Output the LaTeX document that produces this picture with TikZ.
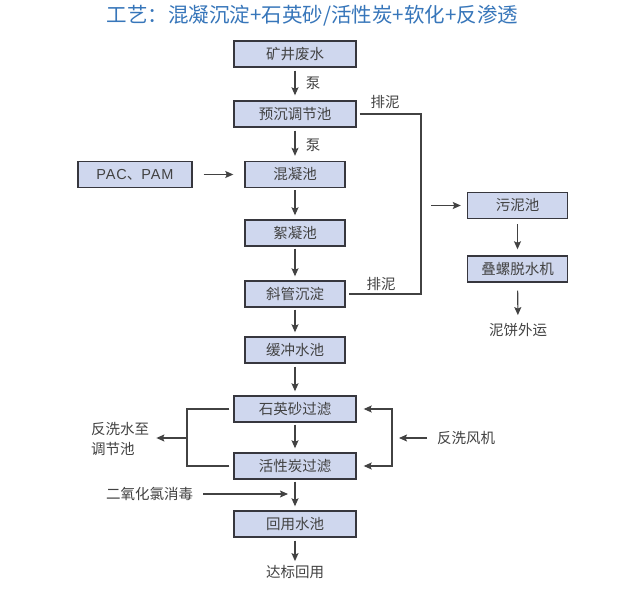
\documentclass[tikz,border=0pt]{standalone}
\usepackage{fontspec}
\setmainfont{Noto Sans CJK SC}
\newfontfamily\latfont[LetterSpace=6]{Liberation Sans}
\usetikzlibrary{arrows.meta,calc}
\definecolor{boxfill}{RGB}{207,215,238}
\definecolor{boxline}{RGB}{55,55,62}
\definecolor{txt}{RGB}{66,66,66}
\definecolor{ttl}{RGB}{55,118,186}
\begin{document}
\begin{tikzpicture}[x=1pt,y=-1pt,
  box/.style={draw=boxline,line width=1.4pt,fill=boxfill,minimum height=26pt,inner sep=0pt,text=txt,font=\fontsize{14.5}{15}\selectfont},
  wide/.style={box,minimum width=122pt},
  narrow/.style={box,minimum width=100pt},
  lbl/.style={text=txt,font=\fontsize{14.5}{20}\selectfont,inner sep=0pt},
  conn/.style={draw=txt,line width=1.1pt},
  arr/.style={conn,-{Stealth[length=8pt,width=7pt,inset=1.5pt]}}]
\useasboundingbox (0,0) rectangle (621,601);
\fill[white] (0,0) rectangle (621,601);
\node[text=ttl,font=\fontsize{20.5}{21}\selectfont,inner sep=0pt] (title) at (312.5,16) {工艺：混凝沉淀+石英砂/活性炭+软化+反渗透};
% main column
\node[wide] (n1) at (295,54) {矿井废水};
\node[wide] (n2) at (295,114) {预沉调节池};
\node[narrow] (n3) at (295,174.5) {混凝池};
\node[box,minimum width=114pt] (pac) at (135,174.5) {{\latfont PAC}、{\latfont PAM}};
\node[narrow] (n4) at (295,233) {絮凝池};
\node[narrow] (n5) at (295,294) {斜管沉淀};
\node[narrow] (n6) at (295,350) {缓冲水池};
\node[wide] (n7) at (295,409) {石英砂过滤};
\node[wide] (n8) at (295,466) {活性炭过滤};
\node[wide] (n9) at (295,524) {回用水池};
\node[lbl] (n10) at (295,572) {达标回用};
% sludge column
\node[narrow] (s1) at (517.5,205.5) {污泥池};
\node[narrow] (s2) at (517.5,269) {叠螺脱水机};
\node[lbl] (s3) at (518,330) {泥饼外运};
% labels
\node[lbl] (p1) at (313,83) {泵};
\node[lbl] (p2) at (313,145) {泵};
\node[lbl] (d1) at (385,102) {排泥};
\node[lbl] (d2) at (381,284) {排泥};
\node[lbl,anchor=west] (cl) at (106,494) {二氧化氯消毒};
\node[lbl,align=left,anchor=west] (bw) at (91,439) {反洗水至\\调节池};
\node[lbl,anchor=west] (fan) at (437,438) {反洗风机};
% coordinates
\coordinate (jt) at (421,200);
\coordinate (a0) at (431,205.5);
\coordinate (cj) at (288,494);
\coordinate (lb) at (187,438);
\coordinate (rb) at (392,438);
% main arrows
\draw[arr,shorten <=3pt,shorten >=5pt] (n1) -- (n2);
\draw[arr,shorten <=3pt,shorten >=5pt] (n2) -- (n3);
\draw[arr,shorten <=2pt,shorten >=4pt] (n3) -- (n4);
\draw[arr,shorten <=2pt,shorten >=4pt] (n4) -- (n5);
\draw[arr,shorten <=2pt,shorten >=4pt] (n5) -- (n6);
\draw[arr,shorten <=3pt,shorten >=4pt] (n6) -- (n7);
\draw[arr,shorten <=2pt,shorten >=4pt] (n7) -- (n8);
\draw[arr,shorten <=2pt,shorten >=4pt] (n8) -- (n9);
\draw[arr,shorten <=3pt,shorten >=4pt] (n9) -- (n10);
\draw[arr,shorten <=11pt,shorten >=11pt] (pac) -- (n3);
\draw[arr,shorten <=10pt] (cl.east) -- (cj);
% sludge
\draw[conn,shorten <=3pt,shorten >=3pt] (n2.east) -| (jt) |- (n5.east);
\draw[arr,shorten >=6pt] (a0) -- (s1.west);
\draw[arr,shorten <=5pt,shorten >=6pt] (s1) -- (s2);
\draw[arr,shorten <=8pt,shorten >=8pt] (s2) -- (s3);
% backwash
\draw[conn,shorten <=4pt] (n7.west) -| (lb);
\draw[conn,shorten <=4pt] (n8.west) -| (lb);
\draw[arr,shorten >=7pt] (lb) -- (bw.east |- lb);
\draw[arr,shorten >=7pt] (rb) |- (n7.east);
\draw[arr,shorten >=7pt] (rb) |- (n8.east);
\draw[arr,shorten <=10pt,shorten >=7pt] (fan.west) -- (rb);
\end{tikzpicture}
\end{document}
